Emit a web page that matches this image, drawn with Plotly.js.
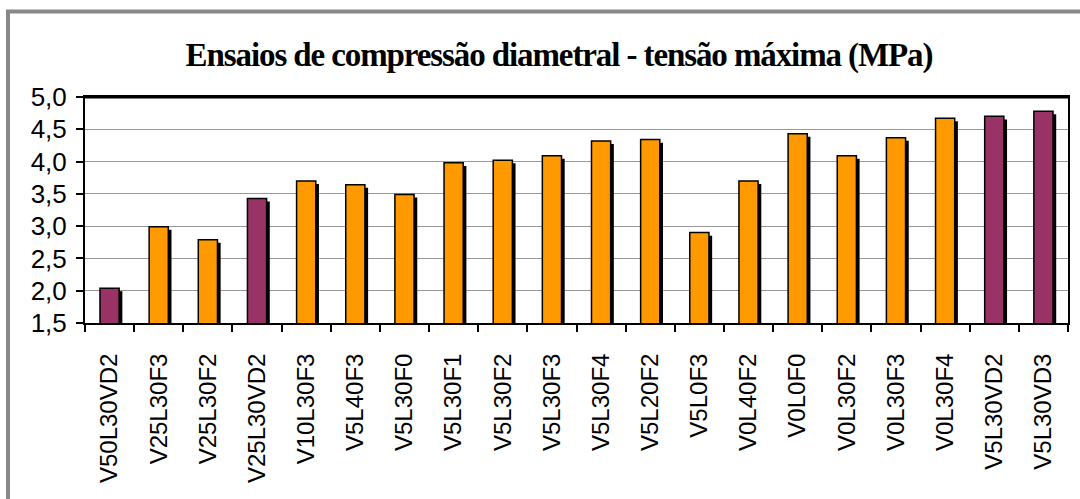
<!DOCTYPE html>
<html>
<head>
<meta charset="utf-8">
<script src="https://cdn.plot.ly/plotly-3.0.1.min.js"></script>
<style>
html,body{margin:0;padding:0;background:#fff;}
#chart{width:1080px;height:499px;}
#chart .gtitle{letter-spacing:-1.1px;}
</style>
</head>
<body>
<div id="chart"></div>
<script>
// Data
var categories = ["V50L30VD2","V25L30F3","V25L30F2","V25L30VD2","V10L30F3","V5L40F3","V5L30F0","V5L30F1","V5L30F2","V5L30F3","V5L30F4","V5L20F2","V5L0F3","V0L40F2","V0L0F0","V0L30F2","V0L30F3","V0L30F4","V5L30VD2","V5L30VD3"];
var tensaoMaxima = [2.04, 2.99, 2.79, 3.43, 3.70, 3.64, 3.49, 3.98, 4.02, 4.09, 4.32, 4.34, 2.90, 3.70, 4.43, 4.09, 4.37, 4.67, 4.70, 4.78];
var yTickValues = [1.5, 2.0, 2.5, 3.0, 3.5, 4.0, 4.5, 5.0];
var titleText = "Ensaios de compressão diametral - tensão máxima (MPa)";

var ORANGE = "#FF9900", PURPLE = "#993366";
var barColors = categories.map(function(c){ return c.indexOf("VD") >= 0 ? PURPLE : ORANGE; });

var BW = 0.39;            // bar width (category units)
var SH_DX = 0.065;        // shadow horizontal offset (category units)
var SH_DY = 0.047;        // shadow vertical drop (value units, ~3px)
var BASE = 1.3;

var shadow = {
  type: "bar",
  x: categories,
  y: tensaoMaxima.map(function(v){ return v - SH_DY - BASE; }),
  base: BASE,
  width: BW,
  offset: -BW/2 + SH_DX,
  marker: {color: "#000000", line: {width: 0}},
  hoverinfo: "skip",
  showlegend: false
};

var bars = {
  type: "bar",
  x: categories,
  y: tensaoMaxima.map(function(v){ return v - BASE; }),
  base: BASE,
  width: BW,
  offset: -BW/2,
  marker: {color: barColors, line: {color: "#000000", width: 1.5}},
  showlegend: false
};

var L = 85, R = 1068, T = 97, B = 323, W = 1080, H = 499;
function px(x){ return (x - L) / (R - L); }
function py(y){ return (B - y) / (B - T); }

var layout = {
  width: W, height: H,
  margin: {l: L, r: W - R, t: T, b: H - B, pad: 0},
  paper_bgcolor: "#ffffff",
  plot_bgcolor: "#ffffff",
  separators: ",.",
  barmode: "overlay",
  showlegend: false,
  title: {
    text: "<b>" + titleText + "</b>",
    font: {family: "Liberation Serif, Times New Roman, serif", size: 33, color: "#000000"},
    x: 559 / W, xanchor: "center",
    y: 1 - 54 / H, yanchor: "middle"
  },
  xaxis: {
    type: "category",
    tickson: "boundaries",
    ticks: "outside", ticklen: 7, tickwidth: 2, tickcolor: "#000",
    showline: true, linecolor: "#000", linewidth: 2, mirror: true,
    showgrid: false, zeroline: false,
    tickangle: -90,
    ticklabelstandoff: 19,
    tickfont: {family: "Liberation Sans, Arial, sans-serif", size: 24, color: "#000"},
    range: [-0.5, categories.length - 0.5]
  },
  yaxis: {
    range: [1.5, 5.0],
    tickvals: yTickValues,
    tickformat: ".1f",
    ticks: "outside", ticklen: 7, tickwidth: 2, tickcolor: "#000",
    showline: true, linecolor: "#000", linewidth: 2, mirror: true,
    showgrid: true, gridcolor: "#999999", gridwidth: 1,
    zeroline: false,
    ticklabelstandoff: 4,
    tickfont: {family: "Liberation Sans, Arial, sans-serif", size: 26, color: "#000"}
  },
  shapes: [
    {type: "line", xref: "paper", yref: "paper", x0: px(8), x1: px(8), y0: py(10), y1: py(520), line: {color: "#888888", width: 4}},
    {type: "line", xref: "paper", yref: "paper", x0: px(6), x1: px(1100), y0: py(11.5), y1: py(11.5), line: {color: "#888888", width: 4}},
    {type: "line", xref: "paper", yref: "paper", x0: 0, x1: 1, y0: 1, y1: 1, line: {color: "#000", width: 3}}
  ]
};

Plotly.newPlot("chart", [shadow, bars], layout, {displayModeBar: false, staticPlot: true});
</script>
</body>
</html>
